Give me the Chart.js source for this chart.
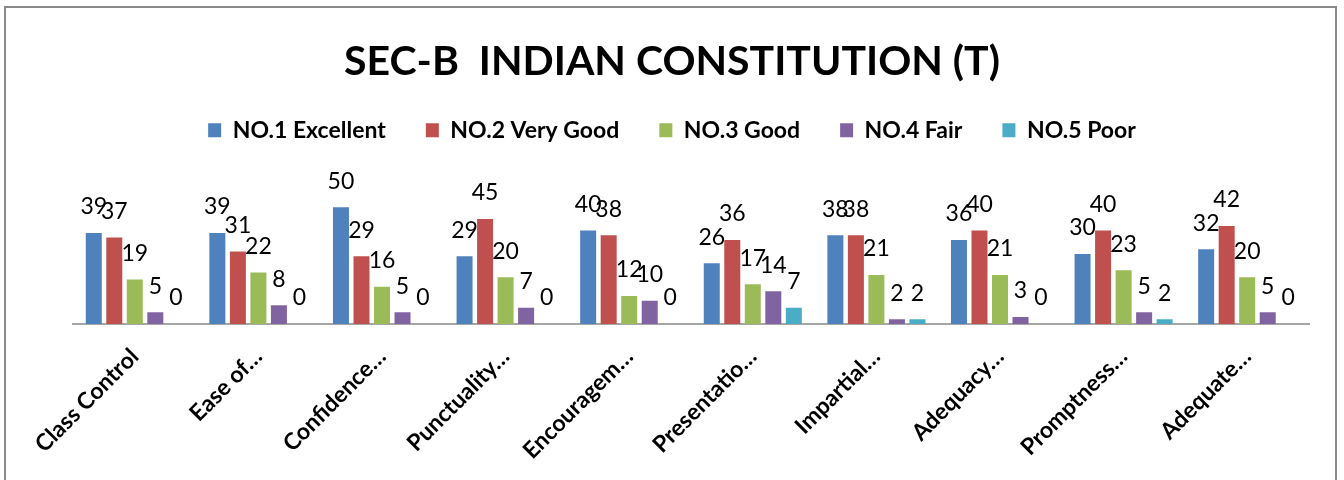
<!DOCTYPE html>
<html>
<head>
<meta charset="utf-8">
<title>SEC-B Indian Constitution (T)</title>
<script src="https://cdn.jsdelivr.net/npm/chart.js@4.4.1/dist/chart.umd.min.js"></script>
<style>
  html, body { margin: 0; padding: 0; background: #fff; overflow: hidden; }
  #wrap { position: relative; width: 1344px; height: 480px; }
  #frame { position: absolute; left: 4px; top: 6px; width: 1333px; height: 500px;
           border: 2px solid #8a8a8a; box-sizing: border-box; }
  canvas { position: absolute; left: 0; top: 0; }
</style>
</head>
<body>
<div id="wrap">
  <div id="frame"></div>
  <canvas id="chart" width="1344" height="480"></canvas>
</div>
<script>
/* ================= DATA ================= */
const categories = [
  "Class Control", "Ease of…", "Confidence…", "Punctuality…", "Encouragem…",
  "Presentatio…", "Impartial…", "Adequacy…", "Promptness…", "Adequate…"
];
const seriesNames = ["NO.1 Excellent", "NO.2 Very Good", "NO.3 Good", "NO.4 Fair", "NO.5 Poor"];
const excellent = [39, 39, 50, 29, 40, 26, 38, 36, 30, 32];
const veryGood  = [37, 31, 29, 45, 38, 36, 38, 40, 40, 42];
const good      = [19, 22, 16, 20, 12, 17, 21, 21, 23, 20];
const fair      = [5, 8, 5, 7, 10, 14, 2, 3, 5, 5];
const poor      = [0, 0, 0, 0, 0, 7, 2, 0, 2, 0];
const colors = ["#4f81bd", "#c0504d", "#9bbb59", "#8064a2", "#4bacc6"];

/* ================= PLUGINS ================= */
// number above every bar
const valueLabels = {
  id: "valueLabels",
  afterDatasetsDraw(chart) {
    const ctx = chart.ctx;
    ctx.save();
    ctx.font = "23px Lato";
    ctx.fillStyle = "#000";
    ctx.textAlign = "center";
    ctx.textBaseline = "middle";
    chart.data.datasets.forEach((ds, i) => {
      chart.getDatasetMeta(i).data.forEach((bar, j) => {
        ctx.fillText(ds.data[j], bar.x, bar.y - 26);
      });
    });
    ctx.restore();
  }
};

// room under the legend for the value labels
const legendSpacer = {
  id: "legendSpacer",
  beforeInit(chart) {
    const fit = chart.legend.fit;
    chart.legend.fit = function () {
      fit.bind(chart.legend)();
      this.height += 32;
    };
  }
};

/* ================= CHART ================= */
const all = [excellent, veryGood, good, fair, poor];

new Chart(document.getElementById("chart"), {
  type: "bar",
  data: {
    labels: categories,
    datasets: all.map((d, i) => ({
      label: seriesNames[i],
      data: d,
      backgroundColor: colors[i],
      borderWidth: 0,
      categoryPercentage: 0.83,
      barPercentage: 0.78
    }))
  },
  options: {
    responsive: false,
    devicePixelRatio: 1,
    animation: false,
    layout: { padding: { left: 35, right: 35, top: 0, bottom: 0 } },
    plugins: {
      title: {
        display: true,
        text: "SEC-B  INDIAN CONSTITUTION (T)",
        color: "#000",
        font: { family: "Lato", size: 41, weight: "bold", lineHeight: 0.85 },
        padding: { top: 44, bottom: 0 }
      },
      legend: {
        display: true,
        labels: {
          color: "#000",
          font: { family: "Lato", size: 23, weight: "bold" },
          boxWidth: 13,
          boxHeight: 14,
          padding: 40
        }
      },
      tooltip: { enabled: false }
    },
    scales: {
      x: {
        grid: { display: false },
        border: { display: true, color: "#a6a6a6", width: 2 },
        ticks: {
          color: "#000",
          font: { family: "Lato", size: 23, weight: "bold" },
          minRotation: 45,
          maxRotation: 45,
          padding: 11
        },
        afterFit(scale) { scale.height = 156; }
      },
      y: {
        display: true,
        min: 0,
        max: 60,
        grid: { display: false },
        border: { display: false },
        ticks: { display: false },
        afterFit(scale) { scale.width = 38; }
      }
    }
  },
  plugins: [valueLabels, legendSpacer]
});
</script>
</body>
</html>
